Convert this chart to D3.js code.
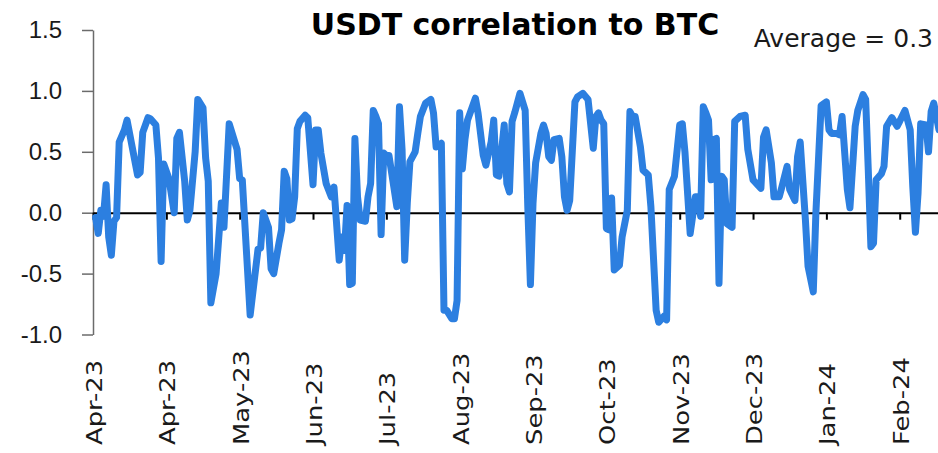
<!DOCTYPE html>
<html>
<head>
<meta charset="utf-8">
<script src="https://cdn.jsdelivr.net/npm/d3@7"></script>
<style>
  html, body { margin: 0; padding: 0; background: #fff; }
  svg { display: block; font-family: "DejaVu Sans", sans-serif; }
</style>
</head>
<body>
<div id="chart"></div>
<script>
// days since 2 Apr 2023, and the rolling USDT/BTC correlation on those days
var days = [1,2,3,4,5,6,7,8,9,10,12,13,17,18,19,21,22,24,25,26,27,29,31,32,33,35,36,37,39,40,
  42,43,44,45,46,47,49,50,52,55,56,57,60,63,64,65,67,68,69,71,72,73,74,75,76,77,78,79,81,82,
  84,85,86,87,89,91,92,94,95,96,97,98,99,100,101,102,104,105,106,107,108,109,110,111,112,113,115,116,117,118,
  119,120,121,123,124,125,127,129,130,131,133,134,135,137,138,139,140,141,142,143,144,146,147,149,150,152,153,154,155,157,
  158,159,160,161,163,165,166,167,168,169,171,172,173,174,175,176,178,179,180,181,182,184,185,187,189,191,192,193,194,195,
  196,197,198,199,201,202,204,205,206,207,209,210,212,213,215,216,218,219,220,222,224,225,226,228,230,231,232,233,234,235,
  236,237,238,239,240,241,242,244,245,247,249,250,252,255,256,257,259,260,262,263,265,266,268,269,270,272,273,275,276,278,
  280,281,282,284,285,286,288,289,291,292,294,295,296,297,298,299,301,302,303,305,307,308,310,312,313,314,315,316,318,319,
  320,321,323];
var corr = [-0.04,-0.17,0.02,-0.03,0.23,-0.2,-0.35,-0.07,-0.04,0.58,0.68,0.76,0.31,0.33,0.66,0.78,0.77,0.72,0.45,-0.40,
  0.40,0.28,0.0,0.61,0.66,0.26,-0.06,0.02,0.5,0.93,0.86,0.45,0.26,-0.74,-0.62,-0.5,0.08,-0.12,0.73,0.52,
  0.28,0.27,-0.84,-0.30,-0.29,0.0,-0.12,-0.46,-0.5,-0.25,-0.14,0.34,0.28,-0.06,-0.05,0.13,0.69,0.75,0.8,0.78,
  0.23,0.68,0.68,0.49,0.24,0.13,0.21,-0.39,-0.2,-0.31,0.06,-0.59,-0.58,0.61,0.13,-0.06,-0.07,0.13,0.24,0.84,
  0.79,0.73,-0.18,0.49,0.47,0.47,0.19,0.05,0.87,0.52,-0.39,0.08,0.42,0.5,0.65,0.79,0.9,0.93,0.82,0.54,
  0.57,-0.8,-0.8,-0.87,-0.87,-0.72,0.82,0.36,0.6,0.76,0.82,0.94,0.82,0.47,0.39,0.58,0.76,0.31,0.3,0.72,
  0.24,0.17,0.75,0.82,0.98,0.84,0.05,-0.59,0.08,0.41,0.65,0.72,0.65,0.46,0.43,0.6,0.61,0.46,0.13,0.02,
  0.10,0.91,0.95,0.98,0.93,0.53,0.79,0.82,0.76,0.73,-0.13,-0.14,0.12,-0.47,-0.43,-0.2,0.02,0.83,0.79,0.79,
  0.54,0.35,0.31,0.05,-0.8,-0.9,-0.85,-0.88,0.19,0.3,0.72,0.73,0.5,-0.17,0.13,0.13,-0.03,0.87,0.82,0.76,
  0.27,0.6,0.61,-0.58,0.3,0.27,-0.09,-0.12,0.75,0.79,0.8,0.52,0.27,0.2,0.62,0.68,0.41,0.13,0.13,0.21,
  0.38,0.19,0.1,0.46,0.58,-0.06,-0.44,-0.65,0.0,0.88,0.91,0.68,0.65,0.65,0.64,0.79,0.19,0.04,0.71,0.84,
  0.97,0.93,0.35,-0.28,-0.25,0.27,0.32,0.38,0.71,0.78,0.71,0.75,0.84,0.68,0.21,-0.16,0.16,0.73,0.72,0.5,
  0.83,0.9,0.68];

var tickDays = [0,28,56,84,112,140,168,196,224,252,280,308];
var tickLabels = ["Apr-23","Apr-23","May-23","Jun-23","Jul-23","Aug-23","Sep-23","Oct-23","Nov-23","Dec-23","Jan-24","Feb-24"];
var yTicks = [-1,-0.5,0,0.5,1,1.5];
var yTickLabels = ["-1.0","-0.5","0.0","0.5","1.0","1.5"];
var title = "USDT correlation to BTC";
var note = "Average = 0.3";

var width = 938, height = 453;
var svg = d3.select("#chart").append("svg")
    .attr("width", width)
    .attr("height", height);

var x = d3.scaleLinear()
    .domain([0, d3.max(days)])
    .range([93, 939]);
var y = d3.scaleLinear()
    .domain([-1, 1.5])
    .range([334.5, 30]);

// y axis
var yAxis = svg.append("g")
    .attr("transform", "translate(93,0)")
    .call(d3.axisLeft(y).tickValues(yTicks).tickSize(11).tickSizeOuter(0).tickPadding(20)
      .tickFormat(function(d, i) { return yTickLabels[i]; }));
yAxis.select(".domain").attr("stroke", "#6b6b6b").attr("stroke-width", 1.5);
yAxis.selectAll(".tick line").attr("stroke", "#6b6b6b").attr("stroke-width", 1.5);
yAxis.selectAll(".tick text")
    .attr("fill", "#1a1a1a")
    .style("font-size", "24px");

// zero line with date ticks
var xAxis = svg.append("g")
    .attr("transform", "translate(0," + y(0) + ")")
    .call(d3.axisBottom(x).tickValues(tickDays).tickSize(7).tickSizeOuter(0).tickFormat(""));
xAxis.select(".domain").attr("stroke", "#000").attr("stroke-width", 2);
xAxis.selectAll(".tick line").attr("stroke", "#000").attr("stroke-width", 2);

// rotated date labels under the plot
svg.append("g").selectAll("text")
    .data(tickDays)
    .enter()
    .append("text")
    .attr("transform", function(d) { return "translate(" + (x(d) + 9) + ",445) rotate(-90) scale(1.23,1)"; })
    .attr("text-anchor", "start")
    .attr("fill", "#1a1a1a")
    .style("font-size", "21px")
    .text(function(d, i) { return tickLabels[i]; });

// the line
var pts = days.map(function(d, i) { return [d, corr[i]]; });
svg.append("path")
    .datum(pts)
    .attr("fill", "none")
    .attr("stroke", "#2c7fe0")
    .attr("stroke-width", 7)
    .attr("stroke-linejoin", "round")
    .attr("stroke-linecap", "round")
    .attr("d", d3.line()
      .x(function(d) { return x(d[0]); })
      .y(function(d) { return y(d[1]); }));

svg.append("text")
    .attr("x", 515)
    .attr("y", 35)
    .attr("text-anchor", "middle")
    .attr("fill", "#000")
    .style("font-size", "30px")
    .style("font-weight", "bold")
    .text(title);

svg.append("text")
    .attr("x", 933)
    .attr("y", 47)
    .attr("text-anchor", "end")
    .attr("fill", "#1a1a1a")
    .style("font-size", "25px")
    .text(note);
</script>
</body>
</html>
